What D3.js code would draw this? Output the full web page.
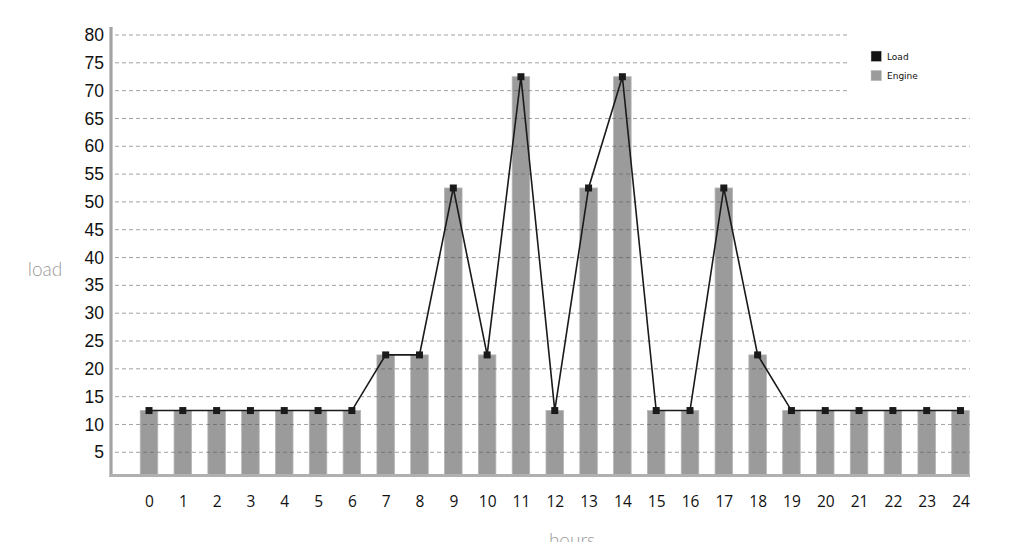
<!DOCTYPE html>
<html>
<head>
<meta charset="utf-8">
<script src="https://cdn.jsdelivr.net/npm/d3@7"></script>
<style>
  body { margin: 0; background: #fff; }
  svg { display: block; }
</style>
</head>
<body>
<div class="canvas"></div>
<script>
// hours on the x axis
const hours = d3.range(0, 25);
// engine bars and load line share the same readings
const engineValues = [12.5, 12.5, 12.5, 12.5, 12.5, 12.5, 12.5, 22.5, 22.5, 52.5, 22.5, 72.5, 12.5,
                      52.5, 72.5, 12.5, 12.5, 52.5, 22.5, 12.5, 12.5, 12.5, 12.5, 12.5, 12.5];
const loadValues = [12.5, 12.5, 12.5, 12.5, 12.5, 12.5, 12.5, 22.5, 22.5, 52.5, 22.5, 72.5, 12.5,
                    52.5, 72.5, 12.5, 12.5, 52.5, 22.5, 12.5, 12.5, 12.5, 12.5, 12.5, 12.5];
const yTicks = d3.range(5, 81, 5);
const legendItems = [{ name: 'Load', color: '#111' }, { name: 'Engine', color: '#9b9b9b' }];

const dims = { width: 1012, height: 542 };
const plot = { left: 111, right: 970, top: 27, bottom: 475 };

const svg = d3.select('.canvas')
  .append('svg')
  .attr('width', dims.width)
  .attr('height', dims.height);

const x = d3.scalePoint()
  .domain(hours)
  .range([149, 960.5]);

const y = d3.scaleLinear()
  .domain([0, 80])
  .range([480.1, 35]);

const barWidth = 17.5;

// bars
svg.append('g')
  .selectAll('rect')
  .data(engineValues)
  .join('rect')
    .attr('x', (d, i) => x(hours[i]) - barWidth / 2)
    .attr('y', d => y(d))
    .attr('width', barWidth)
    .attr('height', d => plot.bottom - y(d))
    .attr('fill', '#9b9b9b')
    .attr('stroke', '#b5b5b5')
    .attr('stroke-width', 0.8);

// dashed gridlines, drawn over the bars
svg.append('g')
  .selectAll('line')
  .data(yTicks)
  .join('line')
    .attr('x1', plot.left + 4)
    .attr('x2', plot.right)
    .attr('y1', d => y(d))
    .attr('y2', d => y(d))
    .attr('stroke', '#555')
    .attr('stroke-opacity', 0.55)
    .attr('stroke-dasharray', '4,3');

// axes: plain thick gray lines
const yAxis = svg.append('g')
  .attr('transform', `translate(${plot.left},0)`)
  .call(d3.axisLeft(y).tickValues(yTicks).tickSize(0).tickPadding(7));
yAxis.select('.domain').remove();
yAxis.selectAll('text')
  .attr('font-family', 'Liberation Sans, Arial, sans-serif')
  .attr('font-size', 17.5)
  .attr('fill', '#111');

svg.append('line')
  .attr('x1', plot.left).attr('x2', plot.left)
  .attr('y1', plot.top).attr('y2', plot.bottom + 2)
  .attr('stroke', '#a3a3a3')
  .attr('stroke-width', 3.2);

svg.append('line')
  .attr('x1', plot.left - 1.5).attr('x2', plot.right)
  .attr('y1', plot.bottom + 0.5).attr('y2', plot.bottom + 0.5)
  .attr('stroke', '#b0b0b0')
  .attr('stroke-width', 3);

const xAxis = svg.append('g')
  .attr('transform', `translate(0,${plot.bottom})`)
  .call(d3.axisBottom(x).tickSize(0).tickPadding(21));
xAxis.select('.domain').remove();
xAxis.selectAll('text')
  .attr('font-family', 'Open Sans, Noto Sans, sans-serif')
  .attr('font-size', 15.5)
  .attr('fill', '#111');

// load line and square markers
const line = d3.line()
  .x((d, i) => x(hours[i]))
  .y(d => y(d));

svg.append('path')
  .datum(loadValues)
  .attr('d', line)
  .attr('fill', 'none')
  .attr('stroke', '#1a1a1a')
  .attr('stroke-width', 1.6);

svg.append('g')
  .selectAll('rect')
  .data(loadValues)
  .join('rect')
    .attr('x', (d, i) => x(hours[i]) - 3.5)
    .attr('y', d => y(d) - 3.5)
    .attr('width', 7)
    .attr('height', 7)
    .attr('fill', '#1a1a1a');

// axis titles
svg.append('text')
  .attr('x', 45)
  .attr('y', 276)
  .attr('text-anchor', 'middle')
  .attr('font-family', 'Lato, Open Sans, sans-serif')
  .attr('font-weight', 300)
  .attr('font-size', 19)
  .attr('fill', '#999')
  .text('load');

svg.append('text')
  .attr('x', 572)
  .attr('y', 547)
  .attr('text-anchor', 'middle')
  .attr('font-family', 'Lato, Open Sans, sans-serif')
  .attr('font-weight', 300)
  .attr('font-size', 19)
  .attr('fill', '#999')
  .text('hours');

// legend sits on a white patch that hides the top gridlines
const legendGroup = svg.append('g');
legendGroup.append('rect')
  .attr('x', 847).attr('y', 28)
  .attr('width', 130).attr('height', 72)
  .attr('fill', '#fff');

const items = legendGroup.selectAll('g.item')
  .data(legendItems)
  .join('g')
    .attr('class', 'item')
    .attr('transform', (d, i) => `translate(871, ${51 + i * 19.3})`);

items.append('rect')
  .attr('width', 10.5)
  .attr('height', 10.5)
  .attr('fill', d => d.color)
  .attr('stroke', '#ccc')
  .attr('stroke-width', 0.5);

items.append('text')
  .attr('x', 16)
  .attr('y', 9)
  .attr('font-family', 'DejaVu Sans, sans-serif')
  .attr('font-size', 9)
  .attr('fill', '#111')
  .text(d => d.name);
</script>
</body>
</html>
